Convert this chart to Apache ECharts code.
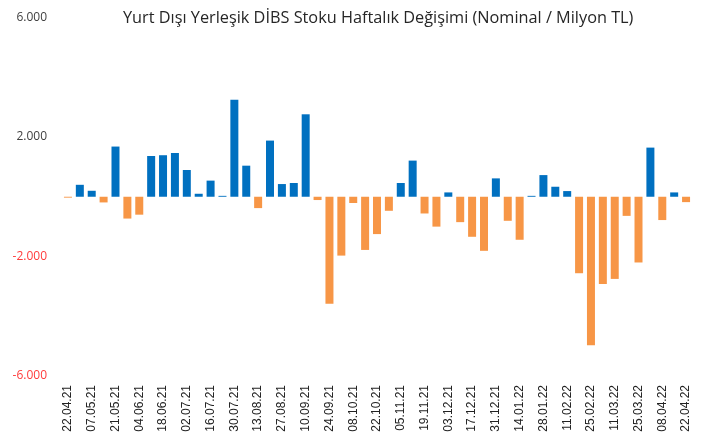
<!DOCTYPE html>
<html>
<head>
<meta charset="utf-8">
<script src="https://cdn.jsdelivr.net/npm/echarts@6/dist/echarts.min.js"></script>
<style>
  html, body { margin: 0; padding: 0; background: #fff; }
  #chart { width: 706px; height: 440px; }
</style>
</head>
<body>
<div id="chart"></div>
<script>
// weekly dates (every other one is labelled)
const weeks = [
  '22.04.21', '30.04.21', '07.05.21', '14.05.21', '21.05.21', '28.05.21',
  '04.06.21', '11.06.21', '18.06.21', '25.06.21', '02.07.21', '09.07.21',
  '16.07.21', '23.07.21', '30.07.21', '06.08.21', '13.08.21', '20.08.21',
  '27.08.21', '03.09.21', '10.09.21', '17.09.21', '24.09.21', '01.10.21',
  '08.10.21', '15.10.21', '22.10.21', '29.10.21', '05.11.21', '12.11.21',
  '19.11.21', '26.11.21', '03.12.21', '10.12.21', '17.12.21', '24.12.21',
  '31.12.21', '07.01.22', '14.01.22', '21.01.22', '28.01.22', '04.02.22',
  '11.02.22', '18.02.22', '25.02.22', '04.03.22', '11.03.22', '18.03.22',
  '25.03.22', '01.04.22', '08.04.22', '15.04.22', '22.04.22'
]

// weekly change, million TL
const changes = [
  -30, 400, 200, -190, 1680, -730,
  -600, 1365, 1390, 1465, 895, 100,
  540, 30, 3245, 1040, -380, 1880,
  425, 460, 2760, -110, -3580, -1970,
  -210, -1780, -1250, -470, 460, 1210,
  -560, -1000, 145, -850, -1340, -1810,
  615, -805, -1440, 30, 725, 335,
  190, -2560, -4970, -2920, -2750, -640,
  -2200, 1645, -780, 145, -180
]

const posColor = '#0070C0'
const negColor = '#F79646'

function fmt(v) {
  const s = Math.abs(v).toString().replace(/\B(?=(\d{3})+(?!\d))/g, '.')
  return (v < 0 ? '-' : '') + s
}

const chart = echarts.init(document.getElementById('chart'))

chart.setOption({
  animation: false,
  title: {
    text: 'Yurt Dışı Yerleşik DİBS Stoku Haftalık Değişimi (Nominal / Milyon TL)',
    left: 118,
    top: 5,
    textStyle: {
      fontFamily: 'Open Sans',
      fontSize: 16.3,
      fontWeight: 'normal',
      color: '#262626'
    }
  },
  grid: {
    left: 62,
    right: 14,
    top: 17.5,
    bottom: 64
  },
  xAxis: {
    type: 'category',
    data: weeks,
    axisLine: { show: false },
    axisTick: { show: false },
    axisLabel: {
      interval: 1,
      rotate: 90,
      margin: 9,
      fontFamily: 'Liberation Sans',
      fontSize: 12,
      color: '#222'
    }
  },
  yAxis: {
    type: 'value',
    min: -6000,
    max: 6000,
    interval: 4000,
    splitLine: { show: false },
    axisLine: { show: false },
    axisTick: { show: false },
    axisLabel: {
      margin: 15,
      fontFamily: 'Open Sans',
      fontSize: 12,
      formatter: v => fmt(v),
      color: v => (Number(v) < 0 ? '#FF3B3B' : '#404040')
    }
  },
  series: [
    {
      type: 'bar',
      barWidth: 8,
      data: changes.map(v => ({
        value: v,
        itemStyle: { color: v < 0 ? negColor : posColor }
      }))
    }
  ]
})
</script>
</body>
</html>
